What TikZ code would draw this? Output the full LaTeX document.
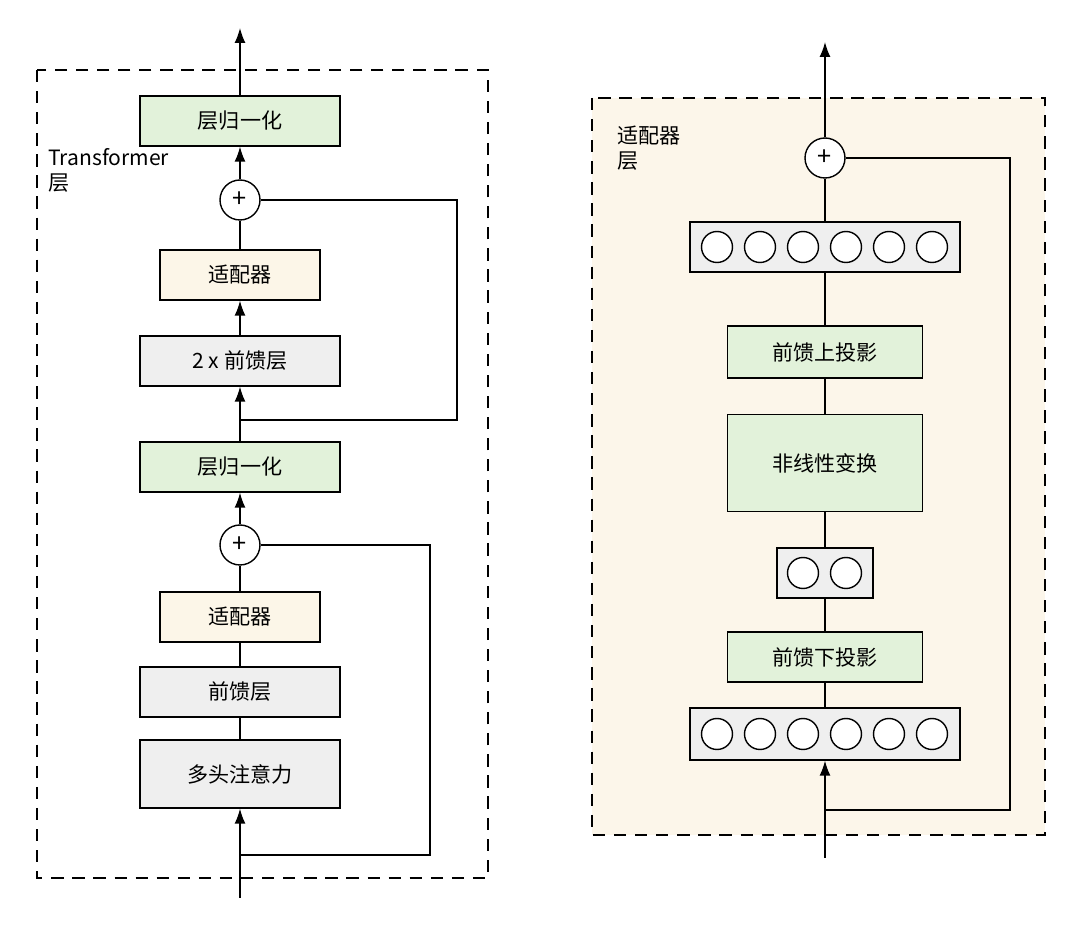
\documentclass[tikz,border=0pt]{standalone}
\usepackage{fontspec}
\setmainfont{Noto Sans CJK SC}
\usetikzlibrary{positioning, arrows.meta}
\definecolor{lngreen}{HTML}{E2F2DA}
\definecolor{adcream}{HTML}{FCF6E8}
\definecolor{ffgray}{HTML}{EFEFEF}
\definecolor{bgcream}{HTML}{FCF6EA}
\tikzset{
  blk/.style={draw, thick, minimum height=1cm, font=\large},
  lnblk/.style={blk, fill=lngreen, minimum width=4cm},
  adblk/.style={blk, fill=adcream, minimum width=3.2cm},
  ffblk/.style={blk, fill=ffgray, minimum width=4cm},
  addop/.style={draw, thick, circle, fill=white, minimum size=0.8cm, inner sep=0pt, font=\Large},
  unit/.style={draw, thick, circle, fill=white, minimum size=0.62cm, inner sep=0pt},
  arr/.style={thick, -{Latex[length=3mm, width=2.2mm]}},
  ln/.style={thick}
}
\begin{document}
\begin{tikzpicture}[x=0.02cm, y=-0.02cm]
  \useasboundingbox (0,0) rectangle (1080,932);
  % Transformer layer
  \draw[thick, dashed, dash pattern=on 7pt off 5pt] (37,70) rectangle (488,878);
  \node[anchor=north west, font=\large, align=left, inner sep=0pt] (tlabel) at (48,148) {Transformer\\层};
  \node[lnblk] (ln2) at (240,121) {层归一化};
  \node[addop] (plus1) at (240,200) {+};
  \node[adblk] (ad1) at (240,275) {适配器};
  \node[ffblk] (ff2) at (240,361) {2 x 前馈层};
  \coordinate (br1) at (240,420);
  \node[lnblk] (ln1) at (240,467) {层归一化};
  \node[addop] (plus2) at (240,545) {+};
  \node[adblk] (ad2) at (240,617) {适配器};
  \node[ffblk] (ff1) at (240,692) {前馈层};
  \node[ffblk, minimum height=1.36cm] (mha) at (240,774) {多头注意力};
  \coordinate (br2) at (240,855);
  \coordinate (tin) at (240,898);
  \coordinate (tout) at (240,28);
  \draw[arr] (ln2) -- (tout);
  \draw[arr] (plus1) -- (ln2);
  \draw[ln] (ad1) -- (plus1);
  \draw[arr] (ff2) -- (ad1);
  \draw[arr] (ln1) -- (ff2);
  \draw[ln] (br1) -| (457,200) -- (plus1);
  \draw[arr] (plus2) -- (ln1);
  \draw[ln] (ad2) -- (plus2);
  \draw[ln] (ff1) -- (ad2);
  \draw[ln] (mha) -- (ff1);
  \draw[arr] (tin) -- (mha);
  \draw[ln] (br2) -| (430,545) -- (plus2);
  % Adapter layer
  \draw[thick, dashed, dash pattern=on 7pt off 5pt, fill=bgcream] (592,98) rectangle (1045,835);
  \node[anchor=north west, font=\large, align=left, inner sep=0pt] (alabel) at (617,126) {适配器\\层};
  \node[addop] (plus3) at (825,158) {+};
  \node[draw, thick, fill=ffgray, minimum width=5.4cm, minimum height=1cm] (vtop) at (825,247) {};
  \node[lnblk, minimum width=3.9cm, minimum height=1.04cm] (up) at (825,352) {前馈上投影};
  \node[lnblk, minimum width=3.9cm, minimum height=1.94cm] (act) at (825,463) {非线性变换};
  \node[draw, thick, fill=ffgray, minimum width=1.92cm, minimum height=1cm] (vmid) at (825,573) {};
  \node[lnblk, minimum width=3.9cm] (down) at (825,657) {前馈下投影};
  \node[draw, thick, fill=ffgray, minimum width=5.4cm, minimum height=1.04cm] (vbot) at (825,734) {};
  \foreach \i in {0,...,5} {
    \node[unit] (ut\i) at (717+43*\i,247) {};
    \node[unit] (ub\i) at (717+43*\i,734) {};
  }
  \node[unit] (um0) at (803,573) {};
  \node[unit] (um1) at (846,573) {};
  \coordinate (br3) at (825,810);
  \coordinate (ain) at (825,858);
  \coordinate (aout) at (825,42);
  \draw[arr] (plus3) -- (aout);
  \draw[ln] (vtop) -- (plus3);
  \draw[ln] (up) -- (vtop);
  \draw[ln] (act) -- (up);
  \draw[ln] (vmid) -- (act);
  \draw[ln] (down) -- (vmid);
  \draw[ln] (vbot) -- (down);
  \draw[arr] (ain) -- (vbot);
  \draw[ln] (br3) -| (1010,158) -- (plus3);
\end{tikzpicture}
\end{document}
